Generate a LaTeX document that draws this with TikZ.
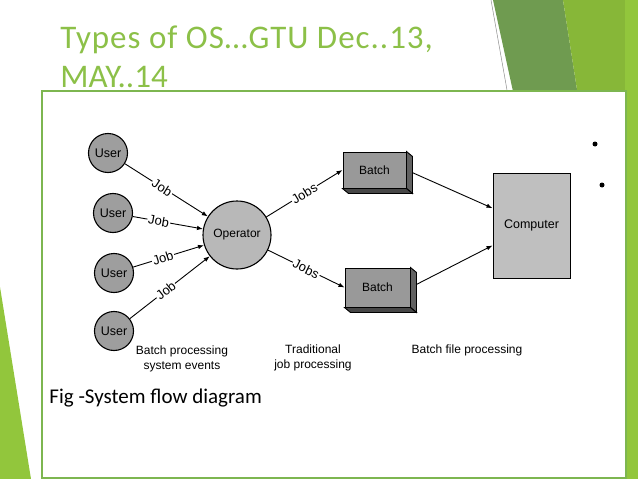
\documentclass[tikz,border=0pt]{standalone}
\usepackage{fontspec}
\setmainfont{Carlito}
\setsansfont{Liberation Sans}
\usetikzlibrary{calc, positioning}
\usetikzlibrary{arrows.meta}
\definecolor{titlegreen}{RGB}{140,192,72}
\definecolor{framegreen}{RGB}{125,182,80}
\definecolor{deepgreen}{RGB}{111,155,80}
\definecolor{midgreen}{RGB}{135,183,56}
\definecolor{stripgreen}{RGB}{146,198,60}

\begin{document}
\begin{tikzpicture}[x=1pt, y=-1pt, >={Latex[length=6pt,width=4.5pt]}, line width=0.9pt, font=\sffamily]
    \tikzstyle{user}=[circle, draw=black, fill=black!38, line width=1.1pt, minimum size=39pt, inner sep=0pt, font=\sffamily\fontsize{12.5}{14}\selectfont]
    \tikzstyle{oper}=[circle, draw=black, fill=black!28, line width=1.1pt, minimum size=68pt, inner sep=0pt, font=\sffamily\fontsize{12}{14}\selectfont]
    \tikzstyle{batch}=[rectangle, draw=black, fill=black!40, line width=1pt, minimum width=63pt, minimum height=36pt, inner sep=0pt, font=\sffamily\fontsize{12}{14}\selectfont]
    \tikzstyle{comp}=[rectangle, draw=black, fill=black!25, line width=1pt, minimum width=77pt, minimum height=105pt, inner sep=0pt, font=\sffamily\fontsize{12.5}{14}\selectfont]
    \tikzstyle{lbl}=[sloped, fill=white, inner sep=1pt, font=\sffamily\fontsize{13}{14}\selectfont]
    \tikzstyle{annot}=[align=center, font=\sffamily\fontsize{12}{15}\selectfont]
    \tikzstyle{dot}=[circle, fill=black, minimum size=5pt, inner sep=0pt]

    \useasboundingbox (0,0) rectangle (638,479);
    % slide decoration
    \fill[deepgreen] (493,0) -- (563,0) -- (578,96) -- (514,96) -- cycle;
    \fill[midgreen] (563,0) -- (626,0) -- (626,96) -- (578,96) -- cycle;
    \fill[stripgreen] (625,0) rectangle (638,479);
    \draw[black!45, line width=0.5pt] (491,0) -- (507,90);
    \fill[stripgreen] (0,287) -- (31,479) -- (0,479) -- cycle;

    \node[anchor=base west, align=left, inner sep=0pt, text=titlegreen, font=\rmfamily\fontsize{33}{39}\selectfont] (title) at (60,87) {{\addfontfeatures{LetterSpace=3}Types of OS…GTU Dec..13,}\\MAY..14};
    \draw[framegreen, line width=1.5pt, fill=white] (42,91) rectangle (626,478);

    \node[user] (u1) at (108,153) {User};
    \node[user] (u2) at (113,213) {User};
    \node[user] (u3) at (114,273) {User};
    \node[user] (u4) at (114,331) {User};
    \node[oper] (op) at (237,235) {Operator};
    \node[batch] (b1) at (374.5,170) {Batch};
    \node[batch, minimum width=65pt, minimum height=39pt] (b2) at (377.5,287.5) {Batch};
    \node[comp] (comp) at (531.5,225.5) {Computer};

    \foreach \u/\p in {u1/0.45, u2/0.37, u3/0.42, u4/0.45}
        \draw[->] (\u) -- node[lbl, pos=\p] {Job} (op);
    \draw[->] (op) -- node[lbl] {Jobs} (b1.west);
    \draw[->] (op) -- node[lbl] {Jobs} (b2.west);
    \draw[->] (b1.east) -- (comp);
    \draw[->] (b2.east) -- (comp);

    % side faces of the batch boxes
    \foreach \b in {b1, b2} {
        \filldraw[fill=black!62] (\b.north east) -- ++(6,5) -- ($(\b.south east)+(6,5)$) -- (\b.south east) -- cycle;
        \filldraw[fill=black!72] (\b.south west) -- ++(6,5) -- ($(\b.south east)+(6,5)$) -- (\b.south east) -- cycle;
    }

    \node[annot] (bpse) at (182,359) {Batch processing\\system events};
    \node[annot] (tjp) at (313,358) {Traditional\\job processing};
    \node[annot] (bfp) at (467,350) {Batch file processing};

    \node[dot] (d1) at (595,144) {};
    \node[dot] (d2) at (602,185) {};

    \node[anchor=base west, inner sep=0pt, font=\rmfamily\fontsize{21}{24}\selectfont] (cap) at (49,403) {Fig -System flow diagram};
\end{tikzpicture}
\end{document}
